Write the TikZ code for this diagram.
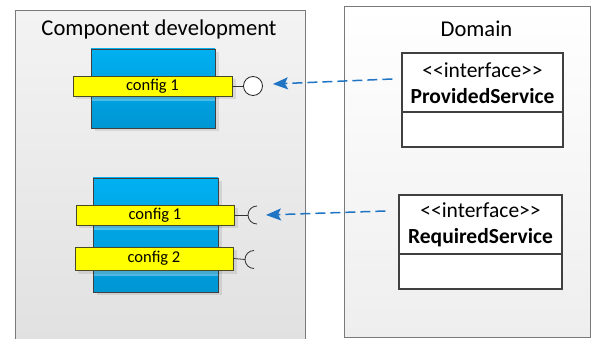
\documentclass[tikz,border=0pt]{standalone}
\usepackage{fontspec}
\newfontfamily\uifont{Carlito}
\usetikzlibrary{arrows.meta,calc}
\definecolor{paneltopL}{HTML}{F3F3F3}
\definecolor{panelbotL}{HTML}{E1E1E1}
\definecolor{paneltopR}{HTML}{FFFFFF}
\definecolor{panelbotR}{HTML}{EEEEEE}
\definecolor{panelline}{HTML}{7A7A7A}
\definecolor{comptop}{HTML}{00B0F0}
\definecolor{compbot}{HTML}{0096D4}
\definecolor{cfgfill}{HTML}{FFFF00}
\definecolor{cfgline}{HTML}{4A4A25}
\definecolor{deparrow}{HTML}{1F74C4}
\tikzset{
 panel/.style={draw=panelline, line width=0.9pt, inner sep=0, anchor=north west},
 compbox/.style={draw=black!75, line width=0.8pt, top color=comptop, bottom color=compbot, inner sep=0},
 cfgbar/.style={draw=cfgline, fill=cfgfill, line width=0.8pt, inner sep=0, font=\uifont\fontsize{16.5}{19}\selectfont},
 lollipop/.style={circle, draw=black!85, fill=white, line width=0.8pt, minimum size=19pt, inner sep=0},
 ifacebox/.style={draw=black!75, fill=white, line width=1.3pt, inner sep=0},
 ifacetext/.style={align=center, font=\uifont\fontsize{21.5}{26.5}\selectfont, inner sep=0},
 heading/.style={font=\uifont\fontsize{22.6}{26}\selectfont, inner sep=0, anchor=base},
 dep/.style={draw=deparrow, line width=1.5pt, dash pattern=on 10pt off 5pt, -{Stealth[length=15pt,width=12pt,inset=3pt]}},
 wire/.style={draw=black!80, line width=0.8pt},
 shadowfill/.style={fill=black, opacity=0.09},
 glint/.style={fill=white, opacity=0.3},
}
\begin{document}
\begin{tikzpicture}[x=1pt,y=-1pt]
\useasboundingbox (0,0) rectangle (595,339);
\clip (0,0) rectangle (595,339);
\fill[white] (0,0) rectangle (595,339);
% panels
\node[panel, top color=paneltopL, bottom color=panelbotL, minimum width=290pt, minimum height=330pt] (left) at (14.5,10.5) {};
\node[panel, top color=paneltopR, bottom color=panelbotR, minimum width=246pt, minimum height=331pt] (right) at (344,6) {};
\node[heading] (lefttitle) at (159,36) {Component development};
\node[heading] (righttitle) at (476.5,36.5) {Domain};
% component 1
\fill[shadowfill] (95,52) rectangle (219,131);
\node[compbox, minimum width=124pt, minimum height=79pt] (c1) at (153,88.5) {};
\fill[glint] (91.5,96) rectangle (214.5,101);
\fill[shadowfill] (76,79) rectangle (236,99);
\node[cfgbar, minimum width=159pt, minimum height=20pt] (b1) at (152.5,86) {config 1};
\node[lollipop] (p1) at (253,86) {};
\draw[wire] (b1.east) -- (p1.west);
% component 2
\fill[shadowfill] (97,181) rectangle (222,295);
\node[compbox, minimum width=125pt, minimum height=114pt] (c2) at (155.5,235) {};
\fill[glint] (94,225) rectangle (217.5,230);
\fill[glint] (94,271) rectangle (217.5,276);
\fill[shadowfill] (79,208) rectangle (238,228);
\fill[shadowfill] (78,250) rectangle (237,274);
\node[cfgbar, minimum width=158pt, minimum height=20pt] (b2) at (155,215) {config 1};
\node[cfgbar, minimum width=158pt, minimum height=23pt] (b3) at (154,258.5) {config 2};
\coordinate (k1) at (257,215);
\coordinate (k2) at (254,259.5);
\draw[wire] (b2.east) -- ([xshift=-9pt]k1);
\draw[wire] ([yshift=9pt]k1) arc[start angle=90, delta angle=180, radius=9pt];
\draw[wire] (b3.east) -- ([xshift=-9pt]k2);
\draw[wire] ([yshift=9pt]k2) arc[start angle=90, delta angle=180, radius=9pt];
% interfaces
\node[ifacebox, minimum width=161pt, minimum height=94pt] (i1) at (482.5,100) {};
\draw[ifacebox] (i1.west |- 0,112) -- (i1.east |- 0,112);
\node[ifacetext] (t1) at (482.5,83) {<{}<interface>{}>\\\textbf{ProvidedService}};
\node[ifacebox, minimum width=163pt, minimum height=94pt] (i2) at (480.5,242) {};
\draw[ifacebox] (i2.west |- 0,254) -- (i2.east |- 0,254);
\node[ifacetext] (t2) at (480.5,225) {<{}<interface>{}>\\\textbf{RequiredService}};
% dependencies
\draw[dep] ([xshift=-9pt,yshift=21pt]i1.west) -- ([xshift=10pt,yshift=2pt]p1.east);
\draw[dep] ([xshift=-13pt,yshift=31pt]i2.west) -- ([xshift=9pt]k1);
\end{tikzpicture}
\end{document}
